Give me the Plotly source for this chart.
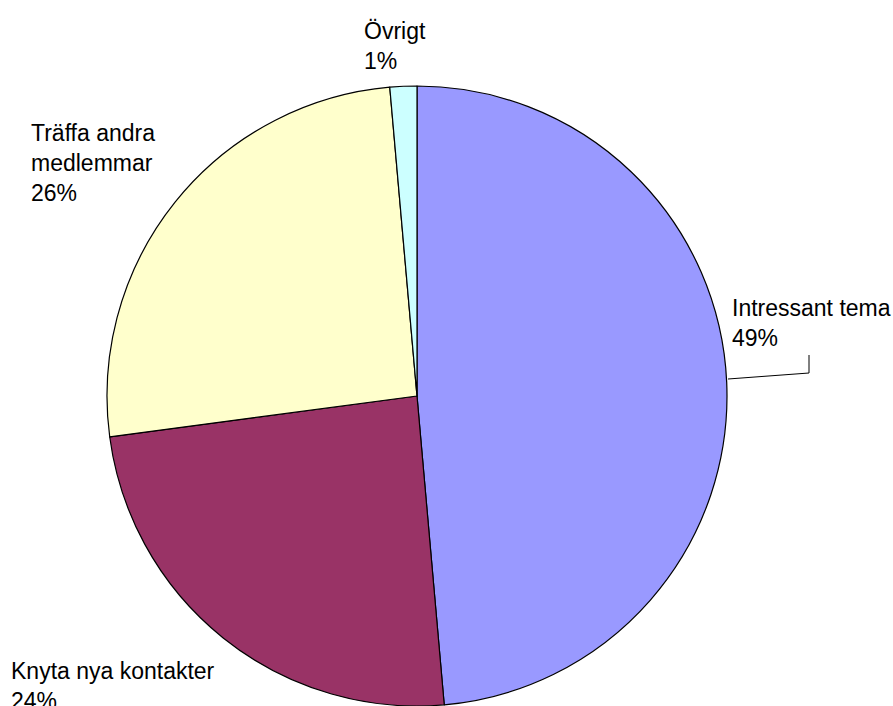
import plotly.graph_objects as go

categories = ["Intressant tema", "Knyta nya kontakter", "Träffa andra medlemmar", "Övrigt"]
values = [48.6, 24.3, 25.7, 1.4]
colors = ["#9999FF", "#993366", "#FFFFCC", "#CCFFFF"]
label_lines = ["Intressant tema", "Knyta nya kontakter", "Träffa andra<br>medlemmar", "Övrigt"]

W, H = 893, 706
cx, cy, r = 417, 396, 310

fig = go.Figure(go.Pie(
    labels=categories, values=values, sort=False, direction="clockwise", rotation=0,
    marker=dict(colors=colors, line=dict(color="black", width=1.2)),
    textinfo="none", hoverinfo="label+percent", showlegend=False,
    domain=dict(x=[(cx - r) / W, (cx + r) / W], y=[(H - cy - r) / H, (H - cy + r) / H]),
))

total = sum(values)
pct = [f"{round(v / total * 100)}%" for v in values]
# label positions (left x, top y) in pixels
pos = {0: (731, 294), 1: (10, 657), 2: (30, 119), 3: (363, 17)}
font = dict(family="Liberation Sans, Arial, sans-serif", size=23, color="black")
for i in range(4):
    x, y = pos[i]
    fig.add_annotation(x=x / W, y=1 - y / H, xref="paper", yref="paper", xanchor="left", yanchor="top",
                       align="left", showarrow=False, borderpad=0,
                       text=f"{label_lines[i]}<br>{pct[i]}", font=font)

# leader line for Intressant tema
fig.add_shape(type="path", xref="paper", yref="paper",
              path=f"M {728/W},{1-379/H} L {809/W},{1-373/H} L {809/W},{1-355/H}",
              line=dict(color="black", width=1))

fig.update_layout(width=W, height=H, margin=dict(l=0, r=0, t=0, b=0),
                  paper_bgcolor="white", plot_bgcolor="white")
fig.write_html("out.html", config={"displayModeBar": False},
               post_script="document.body.style.margin='0';document.body.style.overflow='hidden';")
